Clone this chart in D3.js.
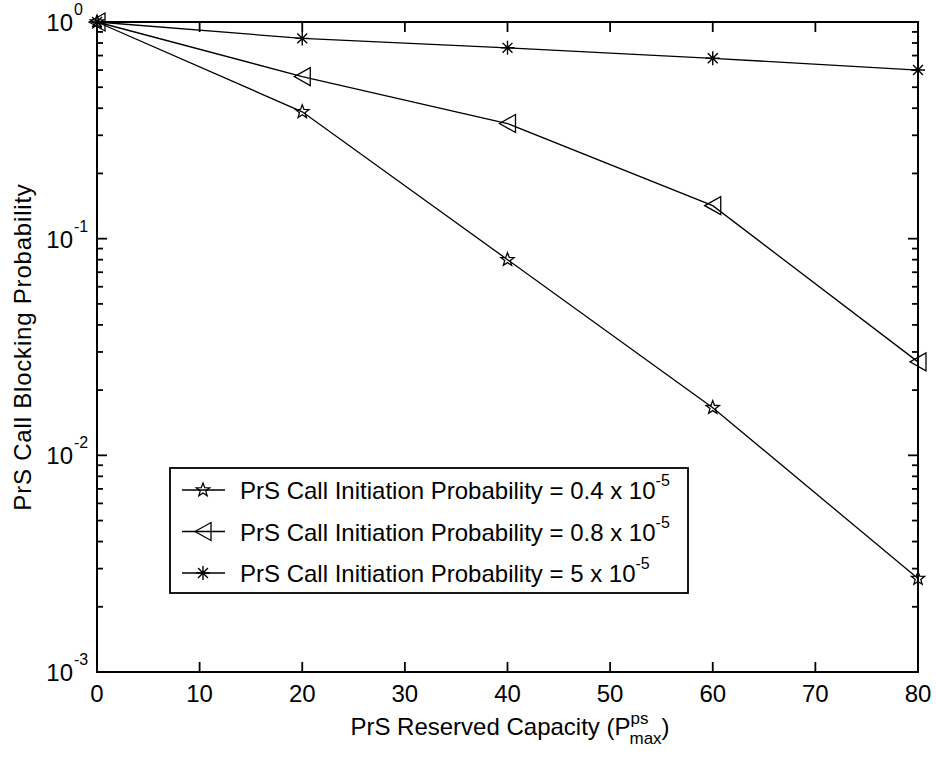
<!DOCTYPE html>
<html>
<head>
<meta charset="utf-8">
<script src="https://cdn.jsdelivr.net/npm/d3@7"></script>
<style>
    html, body { margin: 0; padding: 0; background: #fff; }
    svg { display: block; font-family: "Liberation Sans", Arial, sans-serif; }
</style>
</head>
<body>
<div id="chart"></div>
<script>
// Waarden.
var capacity = [0, 20, 40, 60, 80];
var blockStar = [1.0, 0.385, 0.080, 0.0166, 0.0027];      // 0.4 x 10^-5
var blockTriangle = [1.0, 0.56, 0.34, 0.142, 0.027];      // 0.8 x 10^-5
var blockAsterisk = [1.0, 0.84, 0.76, 0.68, 0.60];        // 5 x 10^-5
var seriesLabels = ['0.4', '0.8', '5'];
var seriesMarkers = ['star', 'triangle', 'asterisk'];
var xTicks = [0, 10, 20, 30, 40, 50, 60, 70, 80];
var yDecades = [0, -1, -2, -3];

(function () {
    'use strict';

    var W = 936, H = 759;
    var left = 97, right = 918, top = 22, bottom = 672;
    var FS = 24;

    var svg = d3.select('#chart').append('svg')
        .attr('width', W)
        .attr('height', H)
        .attr('viewBox', '0 0 ' + W + ' ' + H);

    var x = d3.scaleLinear().domain([0, 80]).range([left, right]);
    var y = d3.scaleLog().domain([1e-3, 1]).range([bottom, top]);

    function tick(g, x1, y1, x2, y2) {
        g.append('line')
            .attr('x1', x1).attr('y1', y1).attr('x2', x2).attr('y2', y2)
            .attr('stroke', '#000').attr('stroke-width', 1.8);
    }

    // x-ticks (naar binnen, onder en boven)
    var xt = svg.append('g');
    xTicks.forEach(function (v) {
        tick(xt, x(v), bottom, x(v), bottom - 10);
        tick(xt, x(v), top, x(v), top + 10);
        xt.append('text')
            .attr('x', x(v)).attr('y', bottom + 30)
            .attr('text-anchor', 'middle')
            .attr('font-size', FS)
            .text(v);
    });

    // y-ticks: decaden + minor ticks, links en rechts
    var yt = svg.append('g');
    var minor = [];
    for (var e = -3; e < 0; e++) {
        for (var m = 2; m <= 9; m++) {
            minor.push(m * Math.pow(10, e));
        }
    }
    minor.forEach(function (v) {
        tick(yt, left, y(v), left + 6, y(v));
        tick(yt, right, y(v), right - 6, y(v));
    });
    yDecades.forEach(function (p) {
        var yy = y(Math.pow(10, p));
        tick(yt, left, yy, left + 10, yy);
        tick(yt, right, yy, right - 10, yy);
        yt.append('text')
            .attr('x', 73).attr('y', yy + 9)
            .attr('text-anchor', 'end')
            .attr('font-size', FS)
            .text('10');
        yt.append('text')
            .attr('x', 74).attr('y', yy - 7)
            .attr('font-size', 16)
            .text(String(p));
    });

    // kader
    svg.append('rect')
        .attr('x', left).attr('y', top)
        .attr('width', right - left).attr('height', bottom - top)
        .attr('fill', 'none').attr('stroke', '#000').attr('stroke-width', 2);

    // markers
    function marker(g, type, cx, cy) {
        var s = 7;
        if (type === 'star') {
            var pts = [];
            for (var i = 0; i < 10; i++) {
                var r = i % 2 === 0 ? s : s * 0.42;
                var a = -Math.PI / 2 + i * Math.PI / 5;
                pts.push([cx + r * Math.cos(a), cy + r * Math.sin(a)]);
            }
            g.append('path').attr('d', 'M' + pts.join('L') + 'Z')
                .attr('fill', 'none').attr('stroke', '#000').attr('stroke-width', 1.3);
        } else if (type === 'triangle') {
            g.append('path')
                .attr('d', 'M' + (cx - 8) + ',' + cy + 'L' + (cx + 8) + ',' + (cy - 9) +
                    'L' + (cx + 8) + ',' + (cy + 9) + 'Z')
                .attr('fill', 'none').attr('stroke', '#000').attr('stroke-width', 1.3);
        } else {
            // MATLAB-asterisk: plus en kruis
            var d = '';
            [0, 45, 90, 135].forEach(function (deg) {
                var rad = deg * Math.PI / 180;
                d += 'M' + (cx - s * Math.cos(rad)) + ',' + (cy - s * Math.sin(rad)) +
                    'L' + (cx + s * Math.cos(rad)) + ',' + (cy + s * Math.sin(rad));
            });
            g.append('path').attr('d', d)
                .attr('fill', 'none').attr('stroke', '#000').attr('stroke-width', 1.4);
        }
    }

    var line = d3.line()
        .x(function (d) { return x(d[0]); })
        .y(function (d) { return y(d[1]); });

    var allSeries = [blockStar, blockTriangle, blockAsterisk];
    allSeries.forEach(function (vals, i) {
        var pts = capacity.map(function (c, k) { return [c, vals[k]]; });
        var g = svg.append('g');
        g.append('path').datum(pts)
            .attr('d', line)
            .attr('fill', 'none').attr('stroke', '#000').attr('stroke-width', 1.3);
        pts.forEach(function (p) {
            marker(g, seriesMarkers[i], x(p[0]), y(p[1]));
        });
    });

    // legenda
    var lg = svg.append('g');
    lg.append('rect')
        .attr('x', 170).attr('y', 468)
        .attr('width', 518).attr('height', 125)
        .attr('fill', '#fff').attr('stroke', '#000').attr('stroke-width', 1.8);
    seriesLabels.forEach(function (lab, i) {
        var ly = 490 + i * 41.5;
        lg.append('line').attr('x1', 182).attr('x2', 225)
            .attr('y1', ly).attr('y2', ly)
            .attr('stroke', '#000').attr('stroke-width', 1.3);
        marker(lg, seriesMarkers[i], 203, ly);
        var t = lg.append('text')
            .attr('x', 240).attr('y', ly + 9)
            .attr('font-size', FS);
        t.append('tspan').text('PrS Call Initiation Probability = ' + lab + ' x 10');
        t.append('tspan').attr('dy', -13).attr('font-size', 16).text('-5');
    });

    // aslabels
    var xl = svg.append('text')
        .attr('x', 510).attr('y', 735)
        .attr('text-anchor', 'middle')
        .attr('font-size', FS);
    xl.append('tspan').text('PrS Reserved Capacity (P');
    xl.append('tspan').attr('dy', -11).attr('font-size', 17).text('ps');
    xl.append('tspan').attr('dx', -19).attr('dy', 20).attr('font-size', 17).text('max');
    xl.append('tspan').attr('dy', -9).text(')');

    svg.append('text')
        .attr('transform', 'translate(31,' + ((top + bottom) / 2) + ') rotate(-90)')
        .attr('text-anchor', 'middle')
        .attr('font-size', FS)
        .attr('letter-spacing', 0.8)
        .text('PrS Call Blocking Probability');
})();
</script>
</body>
</html>
